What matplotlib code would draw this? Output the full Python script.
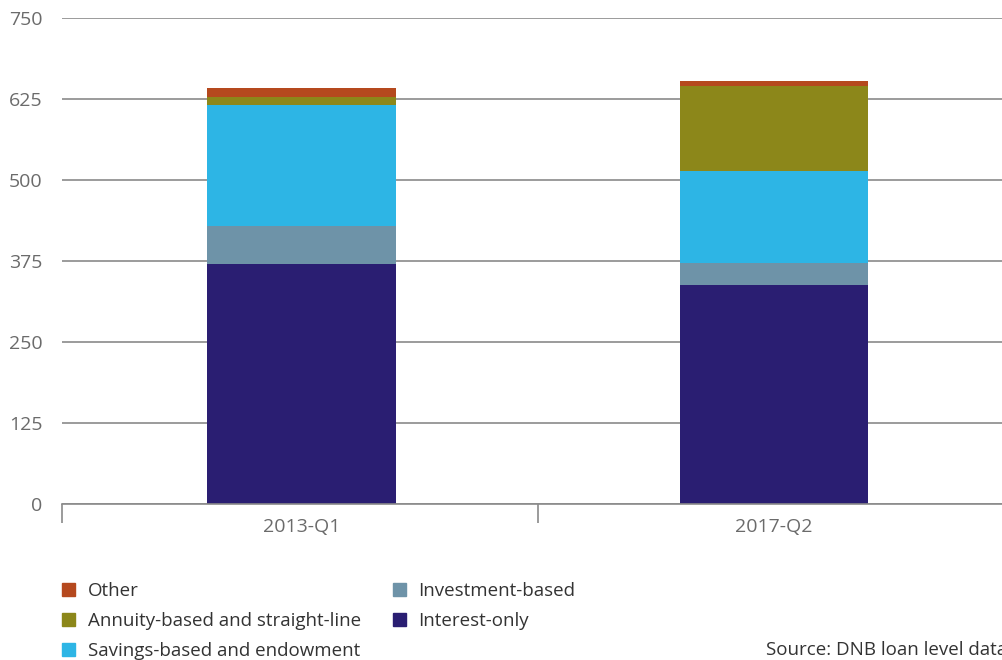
import matplotlib.pyplot as plt
from matplotlib.patches import Patch

plt.rcParams['font.family'] = ['Open Sans', 'DejaVu Sans']

# values (billions)
periods = ['2013-Q1', '2017-Q2']
interest_only = [370, 338]
investment = [59, 34]
savings = [187, 142]
annuity = [12, 131]
other = [14, 8]

series = [
    ('Interest-only', interest_only, '#2a1e72'),
    ('Investment-based', investment, '#6e93a8'),
    ('Savings-based and endowment', savings, '#2db5e5'),
    ('Annuity-based and straight-line', annuity, '#8c871a'),
    ('Other', other, '#b5491e'),
]

fig = plt.figure(figsize=(10.03, 6.6), dpi=100)
# axes runs a bit past the right edge, like the reference
ax = fig.add_axes([62 / 1003, 1 - 504 / 660, 956 / 1003, 486 / 660])

x = range(len(periods))
bottom = [0, 0]
for name, vals, col in series:
    ax.bar(x, vals, width=0.4, bottom=bottom, color=col, zorder=3)
    bottom = [b + v for b, v in zip(bottom, vals)]

ax.set_xlim(-0.508, 1.517)
ax.set_ylim(0, 750)
ax.set_yticks([0, 125, 250, 375, 500, 625, 750])
ax.yaxis.grid(True, color='#8a8a8a', linewidth=1.2, zorder=0)
ax.tick_params(axis='y', length=0, pad=14, labelsize=14, labelcolor='#6b6b6b')

ax.set_xticks([-0.508, 0.5], minor=False)
ax.set_xticklabels([])
ax.set_xticks([0, 1], minor=True)
ax.set_xticklabels(periods, minor=True)
ax.tick_params(axis='x', which='major', length=14, color='#8a8a8a', width=1.2)
ax.tick_params(axis='x', which='minor', length=0, pad=10, labelsize=14, labelcolor='#6b6b6b')

for s in ['top', 'right', 'left']:
    ax.spines[s].set_visible(False)
ax.spines['bottom'].set_color('#8a8a8a')
ax.spines['bottom'].set_linewidth(1.2)
ax.spines['bottom'].set_zorder(4)

# legend: column-wise order as in the reference
order = [4, 3, 2, 1, 0]
handles = [Patch(color=series[i][2], label=series[i][0]) for i in order]
fig.legend(handles=handles, loc='upper left', bbox_to_anchor=(53 / 1003, 1 - 573 / 660),
           ncol=2, frameon=False, fontsize=13.5, handlelength=0.7, handleheight=0.7,
           handletextpad=0.64, labelspacing=0.63, columnspacing=1.7, borderpad=0,
           labelcolor='#333333')

fig.text(766 / 1003, 1 - 650 / 660, 'Source: DNB loan level data', fontsize=13.5,
         color='#333333', va='center', ha='left')

fig.savefig('out.png', dpi=100)
